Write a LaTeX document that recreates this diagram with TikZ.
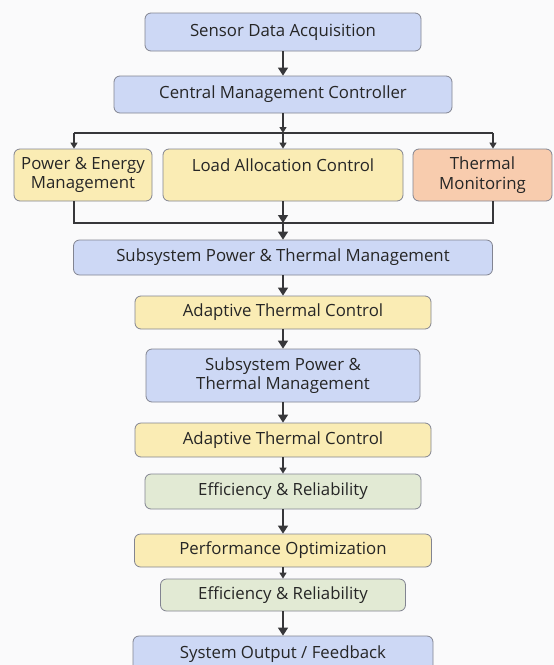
\documentclass[tikz,border=0pt]{standalone}
\usepackage{fontspec}
\setmainfont{Open Sans}
\usepackage{xcolor}
\usetikzlibrary{arrows.meta}
\usetikzlibrary{positioning}

\definecolor{boxblue}{RGB}{205,216,245}
\definecolor{boxyellow}{RGB}{250,236,180}
\definecolor{boxorange}{RGB}{248,204,174}
\definecolor{boxgreen}{RGB}{226,234,212}
\definecolor{boxline}{RGB}{130,132,145}
\definecolor{flowline}{RGB}{55,55,58}
\definecolor{paper}{RGB}{250,250,251}

\begin{document}
\begin{tikzpicture}[x=1pt,y=-1pt,
        stage/.style={draw=boxline, line width=0.8pt, rounded corners=6pt, text=black!85,
          align=center, inner sep=0pt, font=\fontsize{16.8}{19.5}\selectfont},
        blue/.style={stage, fill=boxblue},
        yellow/.style={stage, fill=boxyellow},
        orange/.style={stage, fill=boxorange},
        green/.style={stage, fill=boxgreen},
        flow/.style={draw=flowline, line width=1.6pt, -{Triangle[width=10pt,length=8pt]}},
        tinyflow/.style={draw=flowline, line width=1.4pt, -{Triangle[width=7pt,length=6pt]}},
        wire/.style={draw=flowline, line width=1.3pt}]
        \fill[paper] (0,0) rectangle (554,665);
        \useasboundingbox (0,0) rectangle (554,665);

        \node[blue, minimum width=276pt, minimum height=38pt] (sensor) at (283,32) {Sensor Data Acquisition};
        \node[blue, minimum width=338pt, minimum height=37pt] (central) at (283,94.5) {Central Management Controller};

        \node[yellow, minimum width=138pt, minimum height=52pt] (power) at (83,175) {Power \& Energy\\Management};
        \node[yellow, minimum width=240pt, minimum height=52pt] (load) at (283,175) {Load Allocation Control\\\mbox{}};
        \node[orange, minimum width=139pt, minimum height=52pt] (thermal) at (482.5,175) {Thermal\\Monitoring};

        \node[blue, minimum width=419pt, minimum height=35pt] (subsys) at (283,257.5) {Subsystem Power \& Thermal Management};
        \node[yellow, minimum width=296pt, minimum height=33pt] (adapt) at (283,312.5) {Adaptive Thermal Control};
        \node[blue, minimum width=274pt, minimum height=53pt] (subsystwo) at (283,375.5) {Subsystem Power \&\\Thermal Management};
        \node[yellow, minimum width=296pt, minimum height=34pt] (adapttwo) at (283,440) {Adaptive Thermal Control};
        \node[green, minimum width=276pt, minimum height=35pt] (effic) at (283,491.5) {Efficiency \& Reliability};
        \node[yellow, minimum width=297pt, minimum height=33pt] (perf) at (283,550.5) {Performance Optimization};
        \node[green, minimum width=245pt, minimum height=32pt] (effictwo) at (283,595) {Efficiency \& Reliability};
        \node[blue, minimum width=300pt, minimum height=36pt] (output) at (283,654) {System Output / Feedback};

        \coordinate (split) at (283,133);
        \coordinate (splitleft) at (74,133);
        \coordinate (splitright) at (493,133);
        \coordinate (join) at (283,223);

        \draw[flow] (sensor) -- (central);
        \draw[tinyflow] (central) -- (split);
        \draw[wire] (splitleft) -- (splitright);
        \draw[tinyflow] (splitleft) -- (splitleft |- power.north);
        \draw[tinyflow] (split) -- (load);
        \draw[tinyflow] (splitright) -- (splitright |- thermal.north);

        \draw[wire] (splitleft |- power.south) |- (join) -| (splitright |- thermal.south);
        \draw[flow] (load) -- (join);
        \draw[flow] (join) -- (subsys);

        \draw[flow] (subsys) -- (adapt);
        \draw[flow] (adapt) -- (subsystwo);
        \draw[flow] (subsystwo) -- (adapttwo);
        \draw[tinyflow] (adapttwo) -- (effic);
        \draw[flow] (effic) -- (perf);
        \draw[tinyflow] (perf) -- (effictwo);
        \draw[flow] (effictwo) -- (output);
\end{tikzpicture}
\end{document}
